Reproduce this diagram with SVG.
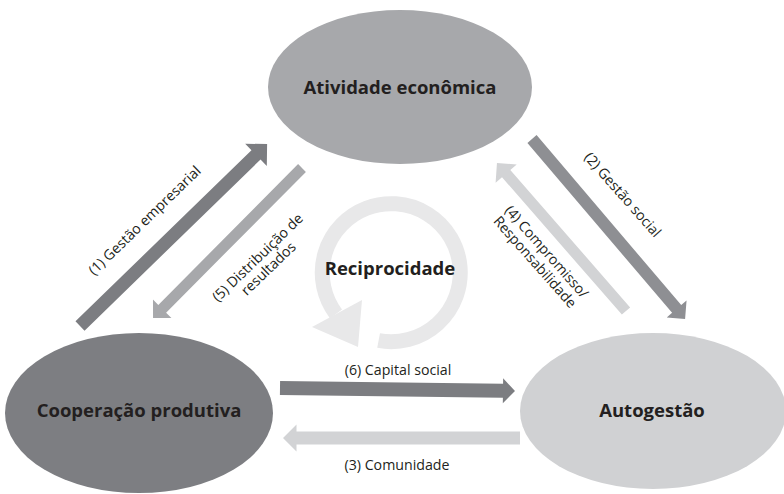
<svg xmlns="http://www.w3.org/2000/svg" width="784" height="494" viewBox="0 0 784 494">
<style>
.node{font-family:"Open Sans","Liberation Sans",sans-serif;font-weight:bold;font-size:18.5px;fill:#231f20;text-anchor:middle}
.lbl{font-family:"Open Sans","Liberation Sans",sans-serif;font-size:14.2px;fill:#231f20;text-anchor:middle}
</style>
<rect width="784" height="494" fill="#ffffff"/>
<g id="reciprocidade">
<path d="M 378.6 340.5 A 69 69 0 1 0 336 314" fill="none" stroke="#e8e8e9" stroke-width="15"/>
<polygon points="312,327 362,300 358,347" fill="#e8e8e9"/>
<text class="node" x="390" y="275">Reciprocidade</text>
</g>
<g id="atividade">
<ellipse cx="400" cy="87" rx="132" ry="77" fill="#a7a8ab"/>
<text class="node" x="400" y="94">Atividade econômica</text>
</g>
<g id="cooperacao">
<ellipse cx="139" cy="413" rx="134" ry="80" fill="#7d7e82"/>
<text class="node" x="139" y="417">Cooperação produtiva</text>
</g>
<g id="autogestao">
<ellipse cx="653" cy="411" rx="133" ry="78" fill="#d0d1d3"/>
<text class="node" x="652" y="417">Autogestão</text>
</g>
<g id="connectors">
<polygon transform="translate(80,326) rotate(-44.2)" points="0,-6.5 245.5,-6.5 245.5,-15.5 261,0 245.5,15.5 245.5,6.5 0,6.5" fill="#7c7d81"/>
<polygon transform="translate(302,168) rotate(134.8)" points="0,-5.5 198.4,-5.5 198.4,-13 211.4,0 198.4,13 198.4,5.5 0,5.5" fill="#a7a8ab"/>
<polygon transform="translate(532,139) rotate(49.6)" points="0,-6 223.2,-6 223.2,-13 236.2,0 223.2,13 223.2,6 0,6" fill="#8e8f93"/>
<polygon transform="translate(626,311) rotate(-131.1)" points="0,-5.5 182.3,-5.5 182.3,-14 196.3,0 182.3,14 182.3,5.5 0,5.5" fill="#d2d3d5"/>
<polygon transform="translate(280,388) rotate(0.73)" points="0,-7 223,-7 223,-12.5 235,0 223,12.5 223,7 0,7" fill="#7c7d81"/>
<polygon transform="translate(520,438) rotate(180)" points="0,-6.5 223.5,-6.5 223.5,-13.5 237,0 223.5,13.5 223.5,6.5 0,6.5" fill="#d2d3d5"/>
<text class="lbl" transform="translate(148,224) rotate(-44)">(1) Gestão empresarial</text>
<text class="lbl" transform="translate(261,261) rotate(-44)">(5) Distribuição de<tspan x="0" dy="15.5">resultados</tspan></text>
<text class="lbl" transform="translate(619,198) rotate(48.5)">(2) Gestão social</text>
<text class="lbl" transform="translate(543,255) rotate(48.5)">(4) Compromisso/<tspan x="0" dy="15.5">Responsabilidade</tspan></text>
<text class="lbl" x="398" y="375">(6) Capital social</text>
<text class="lbl" x="397" y="470">(3) Comunidade</text>
</g>
</svg>
